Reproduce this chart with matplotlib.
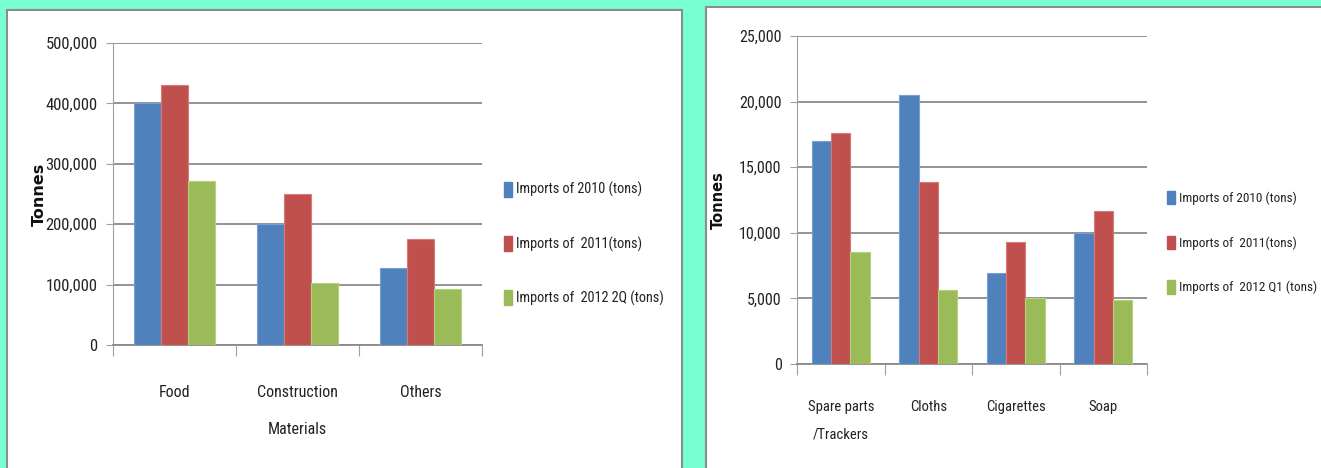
import matplotlib
matplotlib.use("Agg")
import matplotlib.pyplot as plt
import numpy as np
from matplotlib.patches import Rectangle, Patch
from matplotlib.ticker import FuncFormatter

# ---- data ----
left_categories = ["Food", "Construction\nMaterials", "Others"]
left_2010 = [400000, 200000, 127000]
left_2011 = [430000, 250000, 176000]
left_2012 = [272000, 103000, 92000]
left_labels = ["Imports of 2010 (tons)", "Imports of  2011(tons)", "Imports of  2012 2Q (tons)"]
left_yticks = [0, 100000, 200000, 300000, 400000, 500000]

right_categories = ["Spare parts\n/Trackers", "Cloths", "Cigarettes", "Soap"]
right_2010 = [17000, 20500, 6900, 10000]
right_2011 = [17600, 13900, 9300, 11650]
right_2012 = [8500, 5650, 5000, 4850]
right_labels = ["Imports of 2010 (tons)", "Imports of  2011(tons)", "Imports of  2012 Q1 (tons)"]
right_yticks = [0, 5000, 10000, 15000, 20000, 25000]

colors = ["#4F81BD", "#C0504D", "#9BBB59"]
edges = ["#7A9FD0", "#D87A77", "#B5D07F"]
FONT = ["Liberation Sans Narrow", "Roboto Condensed", "Roboto", "DejaVu Sans"]
plt.rcParams['font.family'] = FONT

W, H = 1321, 468
fig = plt.figure(figsize=(W / 100, H / 100), dpi=100)
fig.patch.set_facecolor("#78FFD2")

def fx(x): return x / W
def fy(y): return 1 - y / H

# white panels (behind the axes)
fig.patches.append(Rectangle((fx(7), -0.01), fx(682 - 7), fy(10) + 0.01, transform=fig.transFigure,
                             facecolor="white", edgecolor="#8C8C8C", linewidth=1.5, zorder=-5))
fig.patches.append(Rectangle((fx(706), -0.01), fx(1330 - 706), fy(7) + 0.01, transform=fig.transFigure,
                             facecolor="white", edgecolor="#8C8C8C", linewidth=1.5, zorder=-5))

grid_c = "#8A8A8A"
txt_c = "#222222"

def make_panel(rect, cats, series, labels, yticks, tick_fs, cat_fs, lsp, xpad, legend_anchor, legend_sp,
               legend_fs, ylabel_x, ylabel_fs):
    ax = fig.add_axes(rect, zorder=2)
    ax.set_facecolor("none")
    n = len(cats)
    x = np.arange(n)
    w = 0.22
    for i, (vals, c, e) in enumerate(zip(series, colors, edges)):
        ax.bar(x + (i - 1) * w, vals, width=w, color=c, edgecolor=e, linewidth=0.8, zorder=3, label=labels[i])
    ax.set_xlim(-0.5, n - 0.5)
    ax.set_ylim(yticks[0], yticks[-1])
    ax.set_yticks(yticks)
    ax.yaxis.set_major_formatter(FuncFormatter(lambda v, p: f"{int(v):,}"))
    ax.grid(axis="y", color=grid_c, linewidth=1.3, zorder=1)
    for s in ["top", "right"]:
        ax.spines[s].set_visible(False)
    ax.spines["left"].set_color("#A0A0A0")
    ax.spines["bottom"].set_color(grid_c)
    ax.spines["bottom"].set_linewidth(1.3)
    ax.tick_params(axis="y", length=5, color="#A0A0A0", labelsize=tick_fs, pad=6, labelcolor=txt_c)
    ax.set_xticks(np.arange(n + 1) - 0.5)
    ax.set_xticklabels([])
    ax.tick_params(axis="x", length=8, color="#A0A0A0")
    for xi, c in zip(x, cats):
        ax.annotate(c, xy=(xi, 0), xycoords=("data", "axes fraction"), xytext=(0, -xpad),
                    textcoords="offset points", ha="center", va="top", fontsize=cat_fs,
                    linespacing=lsp, color=txt_c)
    ax.text(ylabel_x, 0.5, "Tonnes", transform=ax.transAxes, rotation=90, ha="center", va="center",
            fontsize=ylabel_fs, fontweight="bold", family=["DejaVu Sans"], color="#111111")
    handles = [Patch(facecolor=c, edgecolor=c) for c in colors]
    leg = ax.legend(handles, labels, loc="center left", bbox_to_anchor=legend_anchor, frameon=False,
                    fontsize=legend_fs, handlelength=0.55, handleheight=1.2, handletextpad=0.3,
                    labelspacing=legend_sp, borderaxespad=0)
    for t in leg.get_texts():
        t.set_color(txt_c)
    return ax

make_panel([fx(113), fy(345), fx(482 - 113), (345 - 43) / H], left_categories,
           [left_2010, left_2011, left_2012], left_labels, left_yticks,
           12, 11.5, 2.85, 29, (1.045, 0.335), 2.7, 10.3, -0.2, 11.5)
make_panel([fx(797), fy(364), fx(1147 - 797), (364 - 36) / H], right_categories,
           [right_2010, right_2011, right_2012], right_labels, right_yticks,
           11.5, 10.5, 2.25, 26, (1.043, 0.37), 2.3, 9.5, -0.225, 10.5)

fig.savefig("out.png", dpi=100, facecolor=fig.get_facecolor())
